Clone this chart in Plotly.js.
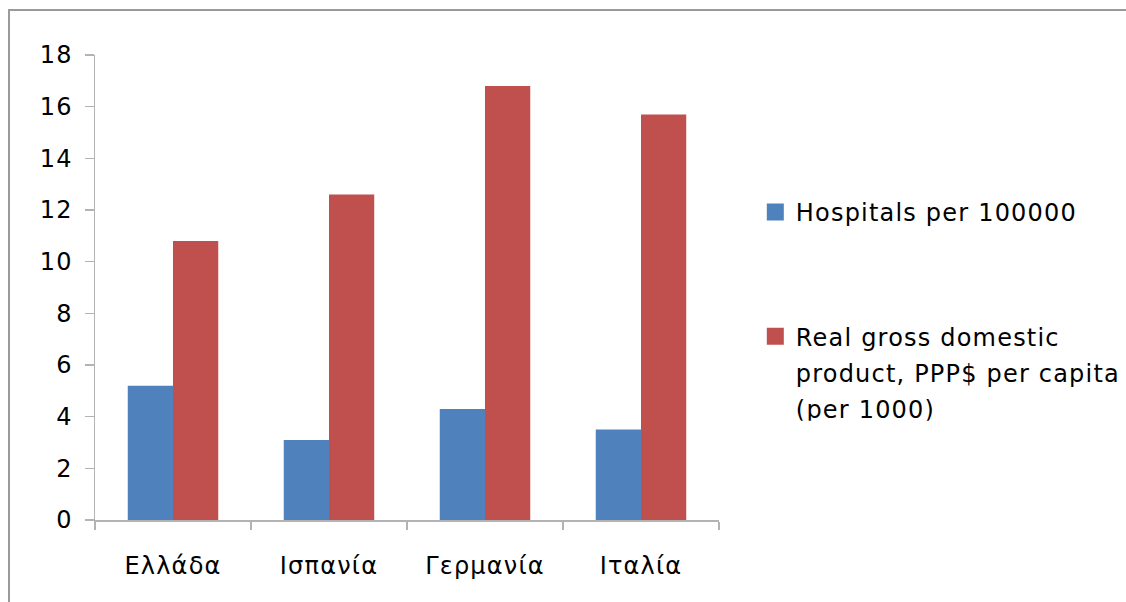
<!DOCTYPE html>
<html>
<head>
<meta charset="utf-8">
<script src="https://cdn.plot.ly/plotly-3.0.1.min.js"></script>
<style>
  html, body { margin: 0; padding: 0; background: #fff; overflow: hidden; }
  #wrap { position: relative; width: 1126px; height: 602px; overflow: hidden; }
  #chart { position: absolute; left: 0; top: 0; width: 1126px; height: 602px; }
  #frame { position: absolute; left: 8px; top: 9px; width: 1300px; height: 800px;
           border-left: 2px solid #9a9a9a; border-top: 2px solid #9a9a9a; pointer-events: none; }
  text { letter-spacing: 1.2px; }
</style>
</head>
<body>
<div id="wrap">
  <div id="chart"></div>
  <div id="frame"></div>
</div>
<script>
// Countries on the category axis
const countries = ['Ελλάδα', 'Ισπανία', 'Γερμανία', 'Ιταλία'];
// Hospitals per 100000 inhabitants
const hospitals = [5.2, 3.1, 4.3, 3.5];
// Real GDP, PPP$ per capita, in thousands
const gdpPerCapita = [10.8, 12.6, 16.8, 15.7];
const seriesNames = ['Hospitals per 100000', 'Real gross domestic<br>product, PPP$ per capita<br>(per 1000)'];
const yTicks = [0, 2, 4, 6, 8, 10, 12, 14, 16, 18];

const font = { family: 'DejaVu Sans, Verdana, sans-serif', size: 24, color: '#000' };

const traces = [
  { type: 'bar', x: countries, y: hospitals, name: seriesNames[0], legendgroup: 'a',
    marker: { color: '#4F81BD' }, hoverinfo: 'x+y' },
  { type: 'bar', x: countries, y: gdpPerCapita, name: seriesNames[1], legendgroup: 'b',
    marker: { color: '#C0504D' }, hoverinfo: 'x+y' }
];

const layout = {
  width: 1126, height: 602,
  margin: { l: 95, r: 407, t: 55, b: 82, pad: 0, autoexpand: false },
  paper_bgcolor: '#fff', plot_bgcolor: '#fff',
  font: font,
  barmode: 'group', bargap: 0.42, bargroupgap: 0,
  showlegend: true,
  legend: {
    x: 1.059, xanchor: 'left', xref: 'paper',
    y: 0.71, yanchor: 'top',
    font: font, valign: 'top',
    traceorder: 'grouped', tracegroupgap: 90,
    itemwidth: 30, bgcolor: 'rgba(0,0,0,0)', borderwidth: 0
  },
  xaxis: {
    type: 'category',
    showline: true, linecolor: '#b3b3b3', linewidth: 1.5,
    ticks: 'outside', tickson: 'boundaries', ticklen: 8, tickcolor: '#b3b3b3', tickwidth: 1.5,
    showgrid: false, zeroline: false,
    tickfont: font, ticklabelstandoff: 24
  },
  yaxis: {
    range: [0, 18], tickvals: yTicks, ticktext: yTicks.map(String),
    showline: true, linecolor: '#b3b3b3', linewidth: 1.5,
    ticks: 'outside', ticklen: 9, tickcolor: '#b3b3b3', tickwidth: 1.5,
    showgrid: false, zeroline: false,
    tickfont: font, ticklabelstandoff: 7
  }
};

Plotly.newPlot('chart', traces, layout, { staticPlot: true, displayModeBar: false }).then(function (gd) {
  // Larger square legend swatches
  gd.querySelectorAll('.legend .legendpoints path').forEach(function (p) {
    p.setAttribute('d', 'M8,8.5H-9V-8.5H8Z');
  });
  // Looser line spacing for wrapped legend labels (line offsets are measured from the first line)
  gd.querySelectorAll('.legend .legendtext').forEach(function (txt) {
    txt.querySelectorAll('tspan.line').forEach(function (t, k) {
      t.setAttribute('dy', (k * 1.5) + 'em');
    });
  });
});
</script>
</body>
</html>
